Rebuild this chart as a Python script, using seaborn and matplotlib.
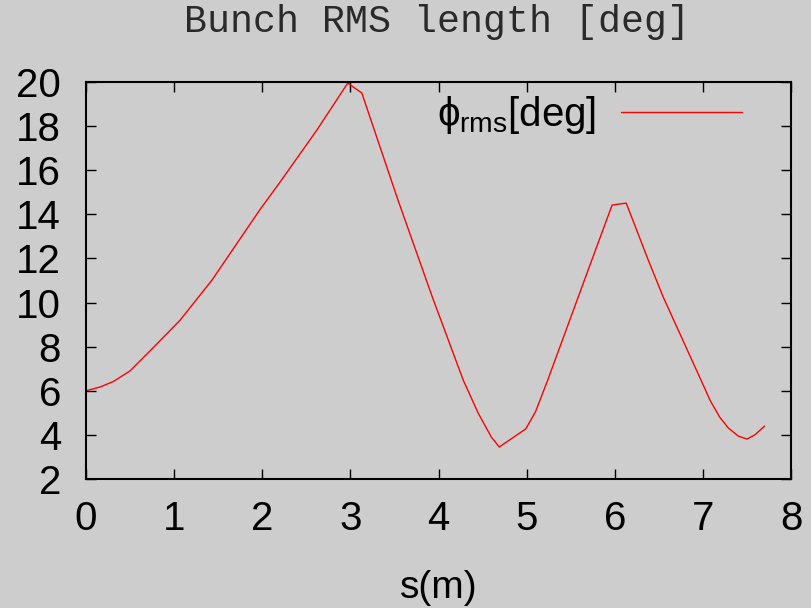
import matplotlib
matplotlib.use("Agg")
import matplotlib.pyplot as plt
import seaborn as sns
import pandas as pd

# data
s_m = [0.0, 0.16, 0.31, 0.50, 0.76, 1.07, 1.43, 1.97, 2.20, 2.62, 2.97, 3.13,
       3.54, 3.93, 4.28, 4.45, 4.60, 4.69, 4.99, 5.10, 5.24, 5.74, 5.97, 6.13,
       6.38, 6.55, 7.02, 7.08, 7.19, 7.29, 7.40, 7.50, 7.59, 7.70]
phi_rms = [6.00, 6.17, 6.42, 6.90, 7.94, 9.21, 11.02, 14.19, 15.45, 17.82, 19.95, 19.50,
           14.65, 10.25, 6.49, 4.99, 3.90, 3.45, 4.27, 5.04, 6.49, 11.93, 14.42, 14.51,
           11.93, 10.25, 6.12, 5.58, 4.81, 4.31, 3.95, 3.81, 4.00, 4.40]
x_ticks = [0, 1, 2, 3, 4, 5, 6, 7, 8]
y_ticks = [2, 4, 6, 8, 10, 12, 14, 16, 18, 20]
title = "Bunch RMS length [deg]"
x_label = "s(m)"
series_label = r"$\phi_{\mathrm{rms}}$[deg]"

df = pd.DataFrame({"s": s_m, "phi": phi_rms})

sns.set_style("ticks")
bg = "#cdcdcd"
plt.rcParams.update({
    "font.family": ["Liberation Sans", "DejaVu Sans"],
    "mathtext.fontset": "custom",
    "mathtext.rm": "Liberation Sans",
    "mathtext.it": "Liberation Sans",
    "mathtext.sf": "Liberation Sans",
    "figure.facecolor": bg,
    "axes.facecolor": bg,
    "savefig.facecolor": bg,
    "text.color": "black",
    "axes.labelcolor": "black",
    "xtick.color": "black",
    "ytick.color": "black",
    "xtick.labelcolor": "black",
    "ytick.labelcolor": "black",
})

fig = plt.figure(figsize=(8.11, 6.08), dpi=100)
ax = fig.add_axes([86 / 811, 1 - 479 / 608, (791 - 86) / 811, (479 - 82) / 608])

sns.lineplot(data=df, x="s", y="phi", ax=ax, color="#ff0000", linewidth=1.0,
             label=series_label, estimator=None, sort=False)

ax.set_xlim(0, 8)
ax.set_ylim(2, 20)
ax.set_xticks(x_ticks)
ax.set_yticks(y_ticks)
ax.tick_params(direction="in", length=7, width=1.0, top=True, right=True,
               labelsize=29, color="black", labelcolor="black")
ax.tick_params(axis="y", pad=18)
ax.tick_params(axis="x", pad=15)
for sp in ax.spines.values():
    sp.set_visible(True)
    sp.set_linewidth(1.5)
    sp.set_color("black")

ax.set_xlabel(x_label, fontsize=28, labelpad=23, color="black")
ax.set_ylabel("")
fig.text(437 / 811, 1 - 22 / 608, title, ha="center", va="center",
         fontsize=27.5, family=["Liberation Mono", "DejaVu Sans Mono"], color="#2a2a2a")

leg = ax.legend(loc="upper right", frameon=False, markerfirst=False, fontsize=29,
                handlelength=3.0, handletextpad=0.6, borderpad=0.0, borderaxespad=0.0,
                bbox_to_anchor=(0.93, 0.97))
for t in leg.get_texts():
    t.set_color("black")

fig.savefig("out.png", dpi=100)
